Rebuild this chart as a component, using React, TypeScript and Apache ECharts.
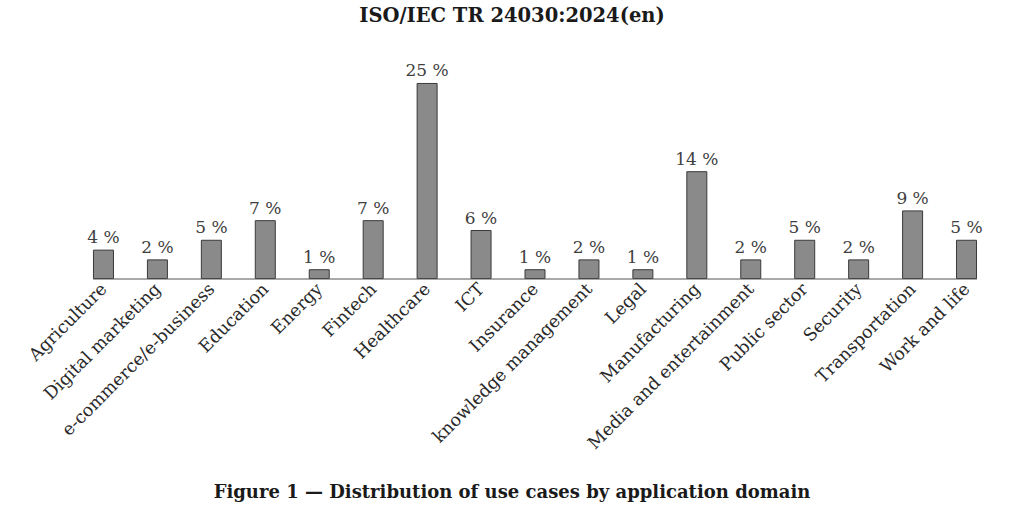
import React, { useEffect, useRef } from "react";
import * as echarts from "echarts";

const categories = [
  "Agriculture",
  "Digital marketing",
  "e-commerce/e-business",
  "Education",
  "Energy",
  "Fintech",
  "Healthcare",
  "ICT",
  "Insurance",
  "knowledge management",
  "Legal",
  "Manufacturing",
  "Media and entertainment",
  "Public sector",
  "Security",
  "Transportation",
  "Work and life",
];

const shares = [
  3.7, 2.47, 4.94, 7.41, 1.23, 7.41, 24.69, 6.17, 1.23, 2.47, 1.23, 13.58, 2.47,
  4.94, 2.47, 8.64, 4.94,
];

const titleText = "ISO/IEC TR 24030:2024(en)";
const captionText = "Figure 1 \u2014 Distribution of use cases by application domain";

const FONT = "DejaVu Serif";

export default function App() {
  const ref = useRef<HTMLDivElement>(null);

  useEffect(() => {
    if (!ref.current) return;
    const chart = echarts.init(ref.current, null, { renderer: "svg" });
    const barWidth = 21;
    chart.setOption({
      animation: false,
      backgroundColor: "#ffffff",
      title: [
        {
          text: titleText,
          left: "center",
          top: 0,
          textStyle: { fontFamily: FONT, fontWeight: "bold", fontSize: 19.5, color: "#1a1a1a" },
        },
        {
          text: captionText,
          left: "center",
          top: 477,
          textStyle: { fontFamily: FONT, fontWeight: "bold", fontSize: 18, color: "#1a1a1a" },
        },
      ],
      grid: { left: 76.5, right: 30.5, top: 80.5, bottom: 244, containLabel: false },
      xAxis: {
        type: "category",
        data: categories,
        axisLine: { show: false },
        axisTick: { show: false },
        axisLabel: {
          interval: 0,
          rotate: 45,
          margin: 7,
          fontFamily: FONT,
          fontSize: 17.5,
          color: "#2a2a2a",
        },
      },
      yAxis: {
        type: "value",
        min: 0,
        max: 25,
        show: false,
        splitLine: { show: false },
      },
      series: [
        {
          type: "bar",
          data: shares,
          barWidth,
          itemStyle: { color: "#8a8a8a", borderColor: "#3a3a3a", borderWidth: 1 },
          label: {
            show: true,
            position: "top",
            distance: 4,
            fontFamily: FONT,
            fontSize: 17,
            color: "#404040",
            formatter: (p: any) => `${Math.round(p.value)} %`,
          },
        },
      ],
    });
    const x0 = chart.convertToPixel({ xAxisIndex: 0 }, 0) as number;
    const x1 = chart.convertToPixel({ xAxisIndex: 0 }, categories.length - 1) as number;
    const y0 = chart.convertToPixel({ yAxisIndex: 0 }, 0) as number;
    chart.setOption({
      graphic: [
        {
          type: "line",
          shape: { x1: x0 - barWidth / 2, y1: y0, x2: x1 + barWidth / 2, y2: y0 },
          style: { stroke: "#555555", lineWidth: 1.2 },
          z: 10,
        },
      ],
    });
    return () => chart.dispose();
  }, []);

  return (
    <div
      ref={ref}
      style={{ position: "fixed", left: 0, top: 0, width: 1024, height: 523 }}
    />
  );
}
